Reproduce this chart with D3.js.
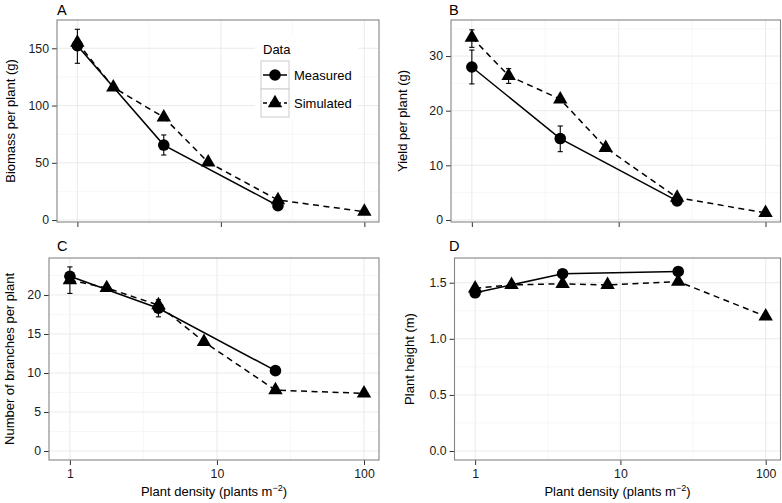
<!DOCTYPE html>
<html><head><meta charset="utf-8">
<script src="https://cdn.jsdelivr.net/npm/d3@7"></script>
<style>
body{margin:0;background:#fff}
svg{display:block;font-family:"Liberation Sans",Arial,Helvetica,sans-serif}
</style>
</head><body>
<svg id="chart" width="782" height="503"></svg>
<script>
// ---------- data ----------
const simDensity  = [1, 1.78, 4, 8.16, 25, 100];
const measDensity = [1, 4, 25];

const biomassMeas   = [152.3, 65.5, 12.5];
const biomassMeasLo = [136.9, 56.8, null];
const biomassMeasHi = [166.6, 74.3, null];
const biomassSim    = [155.0, 115.9, 89.7, 50.4, 17.5, 7.3];
const biomassSimLo  = [null, null, null, null, null, null];
const biomassSimHi  = [null, null, null, null, null, null];

const yieldMeas   = [28.0, 14.9, 3.5];
const yieldMeasLo = [24.9, 12.5, null];
const yieldMeasHi = [31.1, 17.2, null];
const yieldSim    = [33.4, 26.4, 22.1, 13.2, 4.1, 1.3];
const yieldSimLo  = [31.6, 25.0, null, null, null, null];
const yieldSimHi  = [34.8, 27.7, null, null, null, null];

const branchMeas   = [22.4, 18.3, 10.3];
const branchMeasLo = [20.2, 17.2, null];
const branchMeasHi = [23.6, 19.4, null];
const branchSim    = [21.9, 20.9, 18.7, 14.0, 7.8, 7.4];
const branchSimLo  = [null, null, null, null, null, null];
const branchSimHi  = [null, null, null, null, null, null];

const heightMeas   = [1.41, 1.58, 1.60];
const heightMeasLo = [null, null, null];
const heightMeasHi = [null, null, null];
const heightSim    = [1.45, 1.48, 1.49, 1.48, 1.51, 1.20];
const heightSimLo  = [null, null, null, null, null, null];
const heightSimHi  = [null, null, null, null, null, null];

const xTicks = [1, 10, 100];
const xMinor = [Math.pow(10, 0.5), Math.pow(10, 1.5)];
const biomassTicks = [0, 50, 100, 150];
const yieldTicks   = [0, 10, 20, 30];
const branchTicks  = [0, 5, 10, 15, 20];
const heightTicks  = [0, 0.5, 1.0, 1.5];

const seriesNames = ["Measured", "Simulated"];

// ---------- layout ----------
const panels = [
  {tag:"A", title:"Biomass per plant (g)", x0:57, x1:379, y0:20, y1:222, dom:[-1.7,174.7],
   ticks:biomassTicks, fmt:d3.format("d"), meas:biomassMeas, mLo:biomassMeasLo, mHi:biomassMeasHi,
   sim:biomassSim, sLo:biomassSimLo, sHi:biomassSimHi, xlab:false, tagX:57, tagY:15, titleX:10, legend:true},
  {tag:"B", title:"Yield per plant (g)", x0:451, x1:780.5, y0:20, y1:222, dom:[-0.37,36.6],
   ticks:yieldTicks, fmt:d3.format("d"), meas:yieldMeas, mLo:yieldMeasLo, mHi:yieldMeasHi,
   sim:yieldSim, sLo:yieldSimLo, sHi:yieldSimHi, xlab:false, tagX:449, tagY:15, titleX:402},
  {tag:"C", title:"Number of branches per plant", x0:49, x1:379, y0:258, y1:460, dom:[-1.15,24.74],
   ticks:branchTicks, fmt:d3.format("d"), meas:branchMeas, mLo:branchMeasLo, mHi:branchMeasHi,
   sim:branchSim, sLo:branchSimLo, sHi:branchSimHi, xlab:true, tagX:57, tagY:251, titleX:9},
  {tag:"D", title:"Plant height (m)", x0:454.5, x1:780.5, y0:258, y1:460, dom:[-0.08,1.72],
   ticks:heightTicks, fmt:d3.format(".1f"), meas:heightMeas, mLo:heightMeasLo, mHi:heightMeasHi,
   sim:heightSim, sLo:heightSimLo, sHi:heightSimHi, xlab:true, tagX:449, tagY:251, titleX:409}
];

const svg = d3.select("#chart");
const xDom = [Math.pow(10,-0.142), Math.pow(10,2.102)];
const tri = d3.symbol().type(d3.symbolTriangle).size(90);
const TEXT = "#1a1a1a";

panels.forEach(p => {
  const x = d3.scaleLog().domain(xDom).range([p.x0, p.x1]);
  const y = d3.scaleLinear().domain(p.dom).range([p.y1, p.y0]);
  const g = svg.append("g");

  g.append("rect").attr("x",p.x0).attr("y",p.y0).attr("width",p.x1-p.x0).attr("height",p.y1-p.y0)
    .attr("fill","#fff");

  // minor grid
  const yMinor = [];
  for (let i=0;i<p.ticks.length;i++){
    const step = p.ticks[1]-p.ticks[0];
    const m = p.ticks[i]+step/2;
    if (m < p.dom[1]) yMinor.push(m);
  }
  g.selectAll(".ymin").data(yMinor).join("line")
    .attr("x1",p.x0).attr("x2",p.x1).attr("y1",d=>y(d)).attr("y2",d=>y(d))
    .attr("stroke","#f5f5f5").attr("stroke-width",0.8);
  g.selectAll(".xmin").data(xMinor).join("line")
    .attr("y1",p.y0).attr("y2",p.y1).attr("x1",d=>x(d)).attr("x2",d=>x(d))
    .attr("stroke","#f5f5f5").attr("stroke-width",0.8);
  // major grid
  g.selectAll(".ymaj").data(p.ticks).join("line")
    .attr("x1",p.x0).attr("x2",p.x1).attr("y1",d=>y(d)).attr("y2",d=>y(d))
    .attr("stroke","#e8e8e8").attr("stroke-width",0.9);
  g.selectAll(".xmaj").data(xTicks).join("line")
    .attr("y1",p.y0).attr("y2",p.y1).attr("x1",d=>x(d)).attr("x2",d=>x(d))
    .attr("stroke","#e8e8e8").attr("stroke-width",0.9);

  // axes
  const ya = d3.axisLeft(y).tickValues(p.ticks).tickFormat(p.fmt).tickSize(5).tickPadding(3);
  const yg = g.append("g").attr("transform",`translate(${p.x0},0)`).call(ya);
  const xa = d3.axisBottom(x).tickValues(xTicks).tickFormat(p.xlab ? d3.format("d") : () => "").tickSize(5).tickPadding(4);
  const xg = g.append("g").attr("transform",`translate(0,${p.y1})`).call(xa);
  [yg,xg].forEach(a=>{
    a.select(".domain").remove();
    a.selectAll(".tick line").attr("stroke","#333").attr("stroke-width",1);
    a.selectAll(".tick text").attr("fill",TEXT).style("font-size","12.3px")
      .style("font-family",'"Liberation Sans",Arial,sans-serif');
  });

  // border
  g.append("rect").attr("x",p.x0).attr("y",p.y0).attr("width",p.x1-p.x0).attr("height",p.y1-p.y0)
    .attr("fill","none").attr("stroke","#858585").attr("stroke-width",1.1);

  // lines
  const line = d3.line().x(d=>x(d[0])).y(d=>y(d[1]));
  const measPts = measDensity.map((d,i)=>[d,p.meas[i]]);
  const simPts  = simDensity.map((d,i)=>[d,p.sim[i]]);
  g.append("path").attr("d",line(measPts)).attr("fill","none").attr("stroke","#000").attr("stroke-width",1.5);
  g.append("path").attr("d",line(simPts)).attr("fill","none").attr("stroke","#000").attr("stroke-width",1.5)
    .attr("stroke-dasharray","6,4.5");

  // points
  g.selectAll(".mp").data(measPts).join("circle")
    .attr("cx",d=>x(d[0])).attr("cy",d=>y(d[1])).attr("r",5.8).attr("fill","#000");
  g.selectAll(".sp").data(simPts).join("path")
    .attr("transform",d=>`translate(${x(d[0])},${y(d[1])})`).attr("d",tri).attr("fill","#000");

  // error bars
  const eb = [];
  measDensity.forEach((d,i)=>{ if(p.mLo[i]!=null) eb.push([d,p.mLo[i],p.mHi[i]]); });
  simDensity.forEach((d,i)=>{ if(p.sLo[i]!=null) eb.push([d,p.sLo[i],p.sHi[i]]); });
  const ebg = g.selectAll(".eb").data(eb).join("g");
  ebg.append("line").attr("x1",d=>x(d[0])).attr("x2",d=>x(d[0])).attr("y1",d=>y(d[1])).attr("y2",d=>y(d[2]))
    .attr("stroke","#000").attr("stroke-width",1.1);
  ebg.append("line").attr("x1",d=>x(d[0])-2.6).attr("x2",d=>x(d[0])+2.6).attr("y1",d=>y(d[1])).attr("y2",d=>y(d[1]))
    .attr("stroke","#000").attr("stroke-width",1.1);
  ebg.append("line").attr("x1",d=>x(d[0])-2.6).attr("x2",d=>x(d[0])+2.6).attr("y1",d=>y(d[2])).attr("y2",d=>y(d[2]))
    .attr("stroke","#000").attr("stroke-width",1.1);

  // tag
  svg.append("text").attr("x",p.tagX).attr("y",p.tagY).text(p.tag)
    .style("font-size","14.5px").attr("fill","#000");
  // y title
  const cy = (p.y0+p.y1)/2;
  svg.append("text").attr("transform",`translate(${p.titleX + 4.5},${cy}) rotate(-90)`)
    .attr("text-anchor","middle").style("font-size","13px").attr("fill","#000").text(p.title);
  // x title
  if (p.xlab) {
    const t = svg.append("text").attr("x",(p.x0+p.x1)/2).attr("y",496).attr("text-anchor","middle")
      .style("font-size","13px").attr("fill","#000");
    t.append("tspan").text("Plant density (plants m");
    t.append("tspan").attr("dy",-5).style("font-size","9px").text("\u22122");
    t.append("tspan").attr("dy",5).text(")");
  }

  // legend
  if (p.legend) {
    const lg = svg.append("g");
    lg.append("rect").attr("x",255).attr("y",37).attr("width",103).attr("height",84).attr("fill","#fff");
    lg.append("text").attr("x",263).attr("y",54).style("font-size","13px").attr("fill","#000").text("Data");
    seriesNames.forEach((nm,i)=>{
      const ky = 61 + i*28;
      lg.append("rect").attr("x",261).attr("y",ky).attr("width",28).attr("height",28)
        .attr("fill","#fff").attr("stroke","#cccccc").attr("stroke-width",1);
      lg.append("line").attr("x1",263).attr("x2",287).attr("y1",ky+14).attr("y2",ky+14)
        .attr("stroke","#000").attr("stroke-width",1.5).attr("stroke-dasharray", i ? "4,3" : null);
      if (i===0) lg.append("circle").attr("cx",275).attr("cy",ky+14).attr("r",5.8).attr("fill","#000");
      else lg.append("path").attr("transform",`translate(275,${ky+14})`).attr("d",tri).attr("fill","#000");
      lg.append("text").attr("x",294).attr("y",ky+18.5).style("font-size","13px").attr("fill","#000").text(nm);
    });
  }
});
</script>
</body></html>
